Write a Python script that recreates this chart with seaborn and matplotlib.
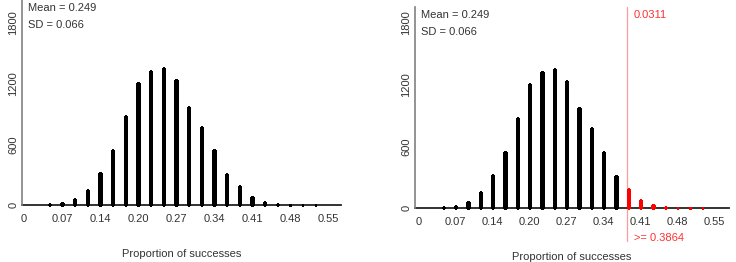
import matplotlib
matplotlib.use("Agg")
import matplotlib.pyplot as plt
import seaborn as sns
import pandas as pd

# ---- data ----
proportions = [0.0455, 0.0682, 0.0909, 0.1136, 0.1364, 0.1591, 0.1818, 0.2045,
               0.2273, 0.2500, 0.2727, 0.2955, 0.3182, 0.3409, 0.3636, 0.3864,
               0.4091, 0.4318, 0.4545, 0.4773, 0.5000, 0.5227]
counts = [5, 17, 58, 152, 320, 548, 875, 1208, 1325, 1353, 1232, 972, 774,
          542, 308, 188, 80, 32, 6, 3, 1, 1]
tick_values = [0, 0.0682, 0.1364, 0.2045, 0.2727, 0.3409, 0.4091, 0.4773, 0.5455]
tick_labels = ["0", "0.07", "0.14", "0.20", "0.27", "0.34", "0.41", "0.48", "0.55"]
y_ticks = [0, 600, 1200, 1800]
threshold = 0.3864
tail_label = ">= 0.3864"
tail_prop = "0.0311"
mean_text = "Mean = 0.249"
sd_text = "SD = 0.066"
xlabel = "Proportion of successes"

df = pd.DataFrame({"prop": proportions, "count": counts})

sns.set_theme(style="white")
plt.rcParams["font.family"] = ["Liberation Sans", "DejaVu Sans"]
TXT = "#333333"

W, H = 736, 262
fig = plt.figure(figsize=(W / 100, H / 100), dpi=100)


def px_axes(left, top, right, bottom):
    return fig.add_axes([left / W, 1 - bottom / H, (right - left) / W, (bottom - top) / H])


def crisp(ax):
    for p in ax.patches:
        p.set_antialiased(False)
        p.set_clip_on(False)


def style(ax, xlim, ylim):
    ax.set_xlim(*xlim)
    ax.set_ylim(*ylim)
    ax.set_xticks(tick_values)
    ax.set_xticklabels(tick_labels)
    ax.set_yticks(y_ticks)
    ax.set_yticklabels([str(v) for v in y_ticks])
    ax.tick_params(axis="x", length=0, pad=6.5, labelsize=8, labelcolor=TXT)
    ax.tick_params(axis="y", length=0, pad=2.5, labelsize=8, labelcolor=TXT,
                   labelrotation=90)
    for lab in ax.get_yticklabels():
        lab.set_va("center")
    for s in ["top", "right"]:
        ax.spines[s].set_visible(False)
    ax.spines["left"].set_color("#808080")
    ax.spines["left"].set_linewidth(1.2)
    ax.spines["bottom"].set_color("#222222")
    ax.spines["bottom"].set_linewidth(1.3)
    ax.spines["bottom"].set_zorder(0.5)
    ax.set_xlabel(xlabel, fontsize=8, color=TXT, labelpad=18)
    ax.set_ylabel("")
    ax.grid(False)


BAR_W = 0.1
BAR_LW = 0.8

# ---- left panel ----
ax1 = px_axes(22, 0, 341, 205)
sns.barplot(data=df, x="prop", y="count", native_scale=True, width=BAR_W,
            color="black", saturation=1, errorbar=None, linewidth=BAR_LW,
            edgecolor="black", ax=ax1)
crisp(ax1)
style(ax1, (-0.0036, 0.5686), (0, 2026))
fig.text(28 / W, 1 - 8 / H, mean_text, fontsize=8, color=TXT, va="center", ha="left")
fig.text(28 / W, 1 - 25 / H, sd_text, fontsize=8, color=TXT, va="center", ha="left")

# ---- right panel ----
ax2 = px_axes(414.7, 7, 729, 208)
below = df[df["prop"] < threshold]
tail = df[df["prop"] >= threshold]
sns.barplot(data=below, x="prop", y="count", native_scale=True, width=BAR_W,
            color="black", saturation=1, errorbar=None, linewidth=BAR_LW,
            edgecolor="black", ax=ax2)
sns.barplot(data=tail, x="prop", y="count", native_scale=True, width=BAR_W,
            color="#ff0000", saturation=1, errorbar=None, linewidth=BAR_LW,
            edgecolor="#ff0000", ax=ax2)
crisp(ax2)
style(ax2, (-0.0072, 0.572), (0, 1956))
ax2.axvline(threshold - 0.0015, ymin=-0.164, ymax=1, color="#ff9a9a", lw=0.9,
            clip_on=False, zorder=0)
fig.text(421 / W, 1 - 15 / H, mean_text, fontsize=8, color=TXT, va="center", ha="left")
fig.text(421 / W, 1 - 32 / H, sd_text, fontsize=8, color=TXT, va="center", ha="left")
fig.text(634 / W, 1 - 15 / H, tail_prop, fontsize=8, color="#ff3030", va="center", ha="left")
fig.text(634 / W, 1 - 238 / H, tail_label, fontsize=8, color="#ff3030", va="center", ha="left")

fig.savefig("out.png", dpi=100)
